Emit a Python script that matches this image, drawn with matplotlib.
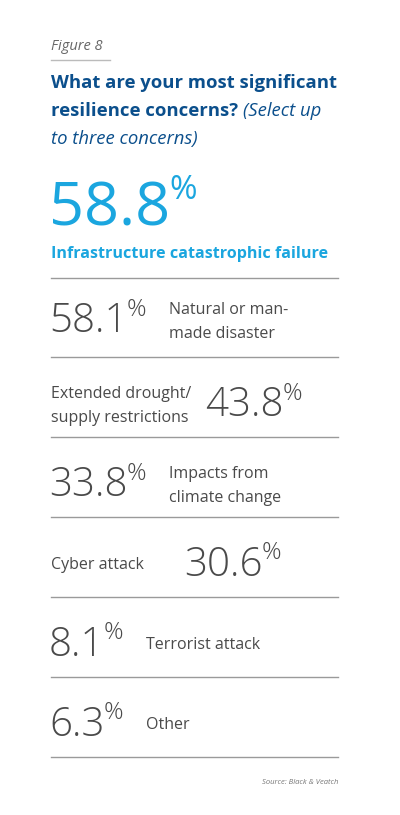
import matplotlib
matplotlib.use("Agg")
import matplotlib.pyplot as plt
from matplotlib.lines import Line2D

top_value = 58.8
top_label = "Infrastructure catastrophic failure"
values = [58.1, 43.8, 33.8, 30.6, 8.1, 6.3]
labels = ["Natural or man-\nmade disaster", "Extended drought/\nsupply restrictions",
          "Impacts from\nclimate change", "Cyber attack", "Terrorist attack", "Other"]
number_first = [True, False, True, False, True, True]

W, H = 400, 815
fig = plt.figure(figsize=(W/100, H/100), dpi=100)
fig.patch.set_facecolor("white")
FONT = ["Open Sans", "DejaVu Sans"]
GRAY = "#4a4a4a"
BLUE = "#0b4f8c"
CYAN = "#1ba6df"
tr = fig.transFigure

def px(x, y):
    return x / W, 1 - y / H

def txt(x, y, s, **kw):
    kw.setdefault("family", FONT)
    kw.setdefault("va", "center")
    return fig.text(*px(x, y), s, **kw)

def hline(y, x0=51, x1=338, c="#9a9a9a", lw=1.0):
    fig.add_artist(Line2D([x0/W, x1/W], [1-y/H]*2, color=c, lw=lw, transform=tr))

fig.canvas.draw()
r = fig.canvas.get_renderer()

def number(x, y, v, size, color, weight="light", psize=None):
    t = txt(x, y, f"{v:.1f}", fontsize=size, color=color, weight=weight)
    bb = t.get_window_extent(r)
    p = txt(x + bb.width - 1, y - size*0.42, "%", fontsize=psize or size*0.6, color=color, weight=weight)
    return bb.width + p.get_window_extent(r).width

txt(51, 47, "Figure 8", fontsize=10.5, color="#666666", style="italic")
hline(60, 51, 110, c="#bbbbbb")
txt(51, 83, "What are your most significant", fontsize=13.3, color=BLUE, weight="bold")
t = txt(51, 111, "resilience concerns? ", fontsize=13.3, color=BLUE, weight="bold")
w = t.get_window_extent(r).width
txt(51 + w, 111, "(Select up", fontsize=13.3, color=BLUE, style="italic")
txt(51, 139, "to three concerns)", fontsize=13.3, color=BLUE, style="italic")

number(49, 209, top_value, 44, CYAN, weight="normal", psize=24)
txt(51, 254, top_label, fontsize=11.6, color=CYAN, weight="bold")

for y in [278, 357, 437, 517, 597, 677, 757]:
    hline(y)

ys = [322, 406, 486, 565, 645, 725]
for v, lab, nf, y in zip(values, labels, number_first, ys):
    if nf:
        w = number(49, y, v, 29, GRAY)
        txt(49 + w + 22, y, lab, fontsize=11.5, color=GRAY, linespacing=1.6)
    else:
        t = txt(51, y, lab, fontsize=11.5, color=GRAY, linespacing=1.6)
        w = t.get_window_extent(r).width
        number(51 + w + 14 if "\n" in lab else 184, y, v, 29, GRAY)

txt(338, 782, "Source: Black & Veatch", fontsize=5.5, color="#777777", style="italic", ha="right")
fig.savefig("out.png", dpi=100)
